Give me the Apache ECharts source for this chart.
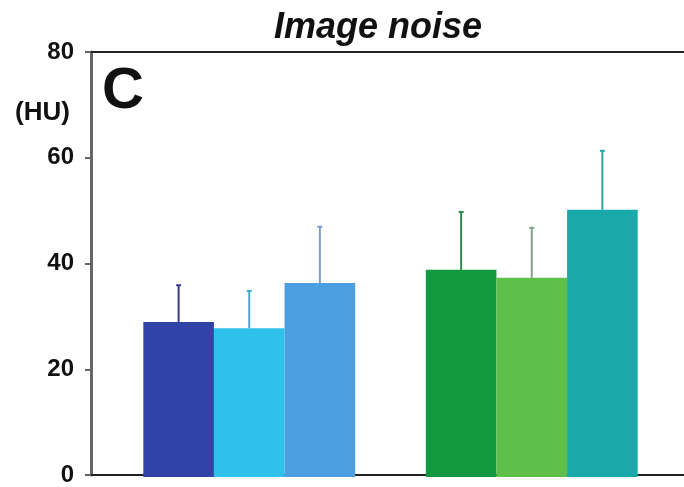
<!DOCTYPE html>
<html><head><meta charset="utf-8">
<script src="https://cdn.jsdelivr.net/npm/echarts@6/dist/echarts.min.js"></script>
<style>html,body{margin:0;padding:0;background:#fff}#c{width:684px;height:487px}</style>
</head><body><div id="c"></div>
<script>
var categories = ['Group 1', 'Group 2'];
var seriesA = [29.2, 39.0];
var seriesB = [28.0, 37.5];
var seriesC = [36.5, 50.3];
var errA = [6.9, 10.9];
var errB = [7.0, 9.4];
var errC = [10.6, 11.1];
var yTicks = [0, 20, 40, 60, 80];

var barColors = [['#2f44a6', '#12993f'], ['#2ec1ea', '#5ec049'], ['#4b9fe1', '#19a9aa']];
var errColors = [['#3b3a8e', '#2f8a4c'], ['#45a9cc', '#7fa38a'], ['#7f9bd6', '#2aa6a0']];
var values = [seriesA, seriesB, seriesC];
var errs = [errA, errB, errC];
var BW = 0.25;

var chart = echarts.init(document.getElementById('c'));
var series = [];
values.forEach(function (vals, si) {
  series.push({
    type: 'bar', xAxisIndex: 2, yAxisIndex: 1,
    barWidth: (BW * 100) + '%', barGap: '0%',
    data: vals.map(function (v, ci) { return { value: v, itemStyle: { color: barColors[si][ci] } }; }),
    z: 2
  });
});
values.forEach(function (vals, si) {
  series.push({
    type: 'custom', xAxisIndex: 2, yAxisIndex: 1, z: 3,
    data: vals.map(function (v, ci) { return [ci, v, v + errs[si][ci]]; }),
    renderItem: function (params, api) {
      var ci = api.value(0);
      var band = api.size([1, 0])[0];
      var off = (si - 1) * band * BW;
      var p0 = api.coord([ci, api.value(1)]);
      var p1 = api.coord([ci, api.value(2)]);
      var x = p0[0] + off;
      var col = errColors[si][ci];
      return { type: 'group', children: [
        { type: 'line', shape: { x1: x, y1: p0[1], x2: x, y2: p1[1] }, style: { stroke: col, lineWidth: 2 } },
        { type: 'line', shape: { x1: x - 2.5, y1: p1[1], x2: x + 2.5, y2: p1[1] }, style: { stroke: col, lineWidth: 2 } }
      ] };
    }
  });
});

chart.setOption({
  animation: false,
  backgroundColor: '#fff',
  title: [
    { text: 'Image noise', left: 373, top: 5, textAlign: 'center',
      textStyle: { fontFamily: 'Liberation Sans', fontWeight: 'bold', fontStyle: 'italic', fontSize: 36, color: '#111' } },
    { text: 'C', left: 97, top: 58,
      textStyle: { fontFamily: 'Liberation Sans', fontWeight: 'bold', fontSize: 58, color: '#111' } },
    { text: '(HU)', left: 10, top: 95,
      textStyle: { fontFamily: 'Liberation Sans', fontWeight: 'bold', fontSize: 26, color: '#111' } }
  ],
  grid: [
    { left: 91, right: 0, top: 52, bottom: 10 },
    { left: 108, right: 11, top: 52, bottom: 10 }
  ],
  xAxis: [
    { type: 'category', gridIndex: 0, position: 'bottom', data: categories,
      axisLine: { lineStyle: { color: '#222', width: 2 } }, axisTick: { show: false }, axisLabel: { show: false } },
    { type: 'category', gridIndex: 0, position: 'top', data: categories,
      axisLine: { lineStyle: { color: '#222', width: 2 } }, axisTick: { show: false }, axisLabel: { show: false } },
    { type: 'category', gridIndex: 1, data: categories,
      axisLine: { show: false }, axisTick: { show: false }, axisLabel: { show: false } }
  ],
  yAxis: [
    { type: 'value', gridIndex: 0, min: yTicks[0], max: yTicks[yTicks.length - 1], interval: 20,
      axisLine: { show: true, lineStyle: { color: '#666', width: 3 } },
      axisTick: { show: true, length: 6, lineStyle: { color: '#666', width: 2 } },
      splitLine: { show: false },
      axisLabel: { margin: 17, color: '#111', fontFamily: 'Liberation Sans', fontWeight: 'bold', fontSize: 24 } },
    { type: 'value', gridIndex: 1, min: yTicks[0], max: yTicks[yTicks.length - 1], interval: 20, show: false, splitLine: { show: false } }
  ],
  series: series
});
</script></body></html>
